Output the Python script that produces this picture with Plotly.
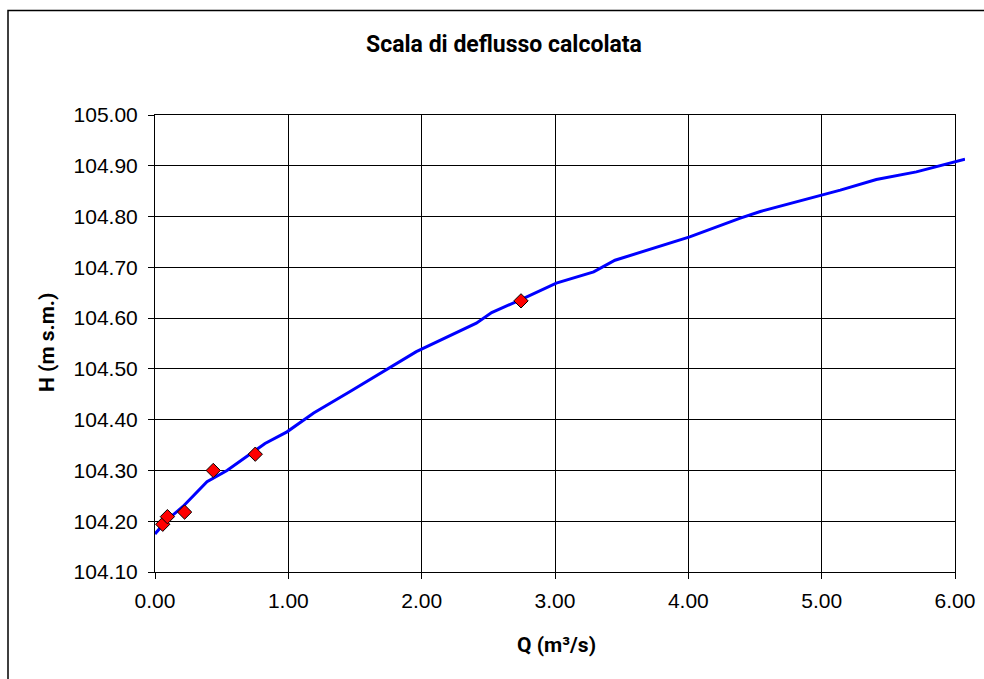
import plotly.graph_objects as go

# ---- data ----
curve_q = [0.0, 0.088, 0.21, 0.39, 0.54, 0.825, 0.99, 1.19, 1.46, 1.79, 1.96, 2.41, 2.525,
           2.74, 3.01, 3.29, 3.45, 4.01, 4.11, 4.39, 4.54, 5.01, 5.14, 5.41, 5.71, 6.075]
curve_h = [104.175, 104.202, 104.229, 104.278, 104.300, 104.353, 104.376, 104.413, 104.455,
           104.508, 104.534, 104.590, 104.611, 104.636, 104.669, 104.691, 104.714, 104.760,
           104.770, 104.797, 104.810, 104.842, 104.852, 104.873, 104.888, 104.913]
meas_q = [0.058, 0.093, 0.222, 0.437, 0.752, 2.745]
meas_h = [104.194, 104.209, 104.218, 104.300, 104.332, 104.634]

x_ticks = [0, 1, 2, 3, 4, 5, 6]
y_ticks = [104.1, 104.2, 104.3, 104.4, 104.5, 104.6, 104.7, 104.8, 104.9, 105.0]

title_text = "Scala di deflusso calcolata"
x_title = "Q (m³/s)"
y_title = "H (m s.m.)"

# ---- layout geometry ----
W, H = 984, 679
ML, MR, MT, MB = 155, 19, 115, 107
plot_w = W - ML - MR          # 810 px overall subplot area
plot_h = H - MT - MB
main_w = 800                  # visible axis width for Q = 0..6
x_max = 6.0
x2_max = x_max * plot_w / main_w   # same px scale, lets the curve run past 6.00

tick_font = dict(family="Liberation Sans, Arial, sans-serif", size=21, color="#000000")
bold_font = "Roboto, Liberation Sans, Arial, sans-serif"

fig = go.Figure()
# empty trace keeps the main (gridded) subplot
fig.add_trace(go.Scatter(x=[], y=[], xaxis="x", yaxis="y", showlegend=False,
                         hoverinfo="skip"))
fig.add_trace(go.Scatter(
    x=curve_q, y=curve_h, mode="lines", xaxis="x2", yaxis="y2",
    line=dict(color="#0000FF", width=3), showlegend=False))
fig.add_trace(go.Scatter(
    x=meas_q, y=meas_h, mode="markers", xaxis="x2", yaxis="y2",
    marker=dict(symbol="diamond", size=11, color="#FF0000",
                line=dict(color="#000000", width=1)),
    showlegend=False))

def px_to_paper_x(px):
    return (px - ML) / plot_w

def py_to_paper_y(py):
    return (H - MB - py) / plot_h

fig.update_layout(
    width=W, height=H,
    margin=dict(l=ML, r=MR, t=MT, b=MB, pad=0, autoexpand=False),
    paper_bgcolor="#FFFFFF", plot_bgcolor="rgba(0,0,0,0)",
    showlegend=False,
    title=dict(text=title_text, x=504 / W, xref="container", xanchor="center",
               y=1 - 44 / H, yref="container", yanchor="middle",
               font=dict(family=bold_font, size=23, color="#000000", weight="bold")),
    xaxis=dict(domain=[0, main_w / plot_w], range=[0, x_max], tickvals=x_ticks,
               tickformat=".2f", ticks="outside", ticklen=6, tickcolor="#000000",
               showline=True, linecolor="#000000", linewidth=1, mirror=True,
               showgrid=True, gridcolor="#000000", gridwidth=1, zeroline=False,
               tickfont=tick_font, ticklabelstandoff=4, fixedrange=True,
               automargin=False),
    yaxis=dict(range=[104.1, 105.0], tickvals=y_ticks, tickformat=".2f",
               ticks="outside", ticklen=6, tickcolor="#000000",
               showline=True, linecolor="#000000", linewidth=1, mirror=True,
               showgrid=True, gridcolor="#000000", gridwidth=1, zeroline=False,
               tickfont=tick_font, ticklabelstandoff=6, fixedrange=True,
               automargin=False),
    xaxis2=dict(domain=[0, 1], range=[0, x2_max], anchor="y2", visible=False,
                showgrid=False, zeroline=False, automargin=False, fixedrange=True),
    yaxis2=dict(range=[104.1, 105.0], anchor="x2", visible=False,
                showgrid=False, zeroline=False, automargin=False, fixedrange=True),
    annotations=[
        dict(text=x_title, x=px_to_paper_x(556), y=py_to_paper_y(645),
             xref="paper", yref="paper",
             xanchor="center", yanchor="middle", showarrow=False,
             font=dict(family=bold_font, size=21, color="#000000", weight="bold")),
        dict(text=y_title, x=px_to_paper_x(47), y=py_to_paper_y(343),
             xref="paper", yref="paper", xanchor="center", yanchor="middle",
             showarrow=False, textangle=-90,
             font=dict(family=bold_font, size=21, color="#000000", weight="bold")),
    ],
    shapes=[
        dict(type="rect", xref="paper", yref="paper",
             x0=px_to_paper_x(8), x1=px_to_paper_x(W + 10),
             y0=py_to_paper_y(H + 10), y1=py_to_paper_y(10.5),
             line=dict(color="#000000", width=1.5), layer="below"),
    ],
)

fig.write_html("out.html")
